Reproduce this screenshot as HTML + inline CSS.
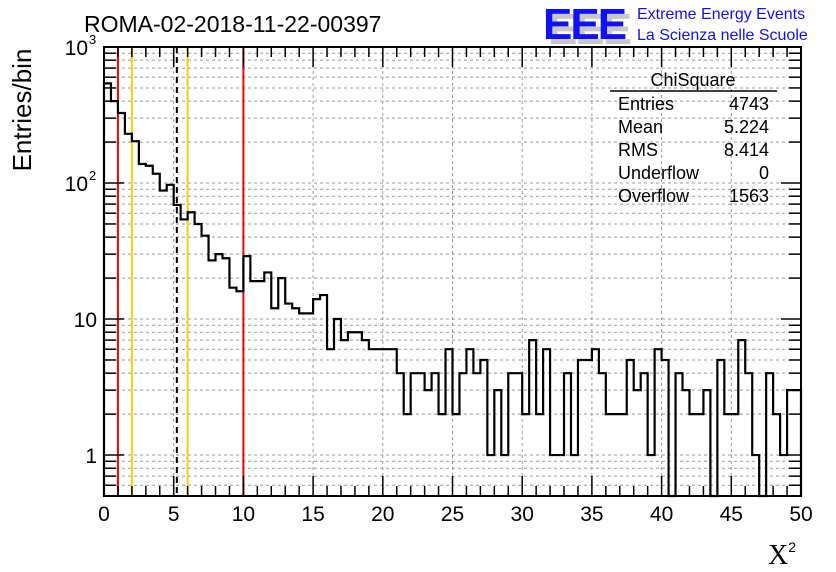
<!DOCTYPE html>
<html><head><meta charset="utf-8"><style>
body{margin:0;background:#fff;}
svg{display:block;font-family:"Liberation Sans",sans-serif;}
</style></head><body>
<svg id="c" width="836" height="572">
<rect width="836" height="572" fill="#fff"/>
<g id="grid"></g>
<g id="vlines"></g>
<path id="hist" fill="none" stroke="#000" stroke-width="2.2"/>
<g id="axes"></g>
<text x="84" y="32" font-size="23">ROMA-02-2018-11-22-00397</text>
<text transform="translate(31,110) rotate(-90)" text-anchor="middle" font-size="26">Entries/bin</text>
<text x="768" y="564" font-size="28" font-family="Liberation Serif,serif">X<tspan font-size="14" dy="-12" font-family="Liberation Sans,sans-serif">2</tspan></text>
<g>
<text x="548" y="44" font-size="44" font-weight="bold" fill="#c8c8c8" letter-spacing="-2">EEE</text>
<text x="543" y="39" font-size="44" font-weight="bold" fill="#1010ff" letter-spacing="-2">EEE</text>
<text x="637" y="19" font-size="16" fill="#1010ff">Extreme Energy Events</text>
<text x="637" y="40" font-size="16" fill="#1010ff">La Scienza nelle Scuole</text>
</g>
<g font-size="18">
<text x="693" y="86" text-anchor="middle">ChiSquare</text>
<line x1="610" y1="91" x2="777" y2="91" stroke="#000" stroke-width="1.5"/>
<text x="618" y="110">Entries</text><text x="769" y="110" text-anchor="end">4743</text>
<text x="618" y="133">Mean</text><text x="769" y="133" text-anchor="end">5.224</text>
<text x="618" y="156">RMS</text><text x="769" y="156" text-anchor="end">8.414</text>
<text x="618" y="179">Underflow</text><text x="769" y="179" text-anchor="end">0</text>
<text x="618" y="202">Overflow</text><text x="769" y="202" text-anchor="end">1563</text>
</g>
</svg>
<script>
const counts=[540,400,327,230,203,138,134,117,88,97,69,54,61,50,41,27,30,28,17,16,
29,19,19,22,12,20,13,12,11,11,14,15,6,10,7,8,8,7,6,6,
6,6,4,2,4,4,3,4,2,6,2,4,6,4,5,1,3,1,4,4,
2,7,2,6,1,1,4,1,5,5,6,4,2,2,2,5,3,4,1,6,
5,0,4,3,2,2,3,0,5,2,2,7,4,1,0,4,2,1,3,3];
const binWidth=0.5;
const xTicks=[0,5,10,15,20,25,30,35,40,45,50];
const refLines=[{v:1,c:"#ff0000",d:""},{v:2,c:"#ffcc00",d:""},{v:5.224,c:"#000",d:"6,4"},{v:6,c:"#ffcc00",d:""},{v:10,c:"#ff0000",d:""}];
const X0=104,X1=801,Y0=496,Y1=47,YMIN=0.5,YMAX=1000;
const sx=v=>X0+(v/50)*(X1-X0);
const sy=v=>{v=Math.max(v,YMIN);return Y0-(Math.log10(v)-Math.log10(YMIN))/(Math.log10(YMAX)-Math.log10(YMIN))*(Y0-Y1);};
const NS="http://www.w3.org/2000/svg";
function mk(tag,attrs,parent){const e=document.createElementNS(NS,tag);for(const k in attrs)e.setAttribute(k,attrs[k]);parent.appendChild(e);return e;}
const grid=document.getElementById('grid'),axes=document.getElementById('axes'),vl=document.getElementById('vlines');
xTicks.forEach(t=>{if(t>0&&t<50){const l=mk('line',{x1:sx(t),x2:sx(t),y1:Y1,y2:Y0,stroke:'#999','stroke-dasharray':'3,3'},grid);

}});
for(let d=0;d<4;d++)for(let m=1;m<10;m++){const v=m*Math.pow(10,d-1);if(v<YMIN||v>YMAX)continue;
const y=sy(v);const l=mk('line',{x1:X0,x2:X1,y1:y,y2:y,stroke:'#999','stroke-dasharray':'3,3'},grid);


const major=(m===1);const L=major?20:12;
mk('line',{x1:X0,x2:X0+L,y1:y,y2:y,stroke:'#000','stroke-width':1.5},axes);
mk('line',{x1:X1,x2:X1-L,y1:y,y2:y,stroke:'#000','stroke-width':1.5},axes);}
refLines.forEach(r=>{const l=mk('line',{x1:sx(r.v),x2:sx(r.v),y1:Y1,y2:Y0,stroke:r.c,'stroke-width':2,'stroke-dasharray':r.d},vl);

});
let d=`M${sx(0)},${Y0}`;
counts.forEach((c,i)=>{const y=c>0?sy(c):Y0;d+=` L${sx(i*binWidth)},${y} L${sx((i+1)*binWidth)},${y}`;});
d+=` L${sx(50)},${Y0}`;
document.getElementById('hist').setAttribute('d',d);
mk('rect',{x:X0,y:Y1,width:X1-X0,height:Y0-Y1,fill:'none',stroke:'#000','stroke-width':2},axes);
for(let t=0;t<=50;t++){const major=t%5===0;const L=major?20:10;
mk('line',{x1:sx(t),x2:sx(t),y1:Y0,y2:Y0-L,stroke:'#000','stroke-width':1.5},axes);
mk('line',{x1:sx(t),x2:sx(t),y1:Y1,y2:Y1+L,stroke:'#000','stroke-width':1.5},axes);}
xTicks.forEach(t=>{const e=mk('text',{x:sx(t),y:521,'text-anchor':'middle','font-size':21},axes);e.textContent=t;

});
const yLab=[{v:1000,t:"10",s:"3"},{v:100,t:"10",s:"2"},{v:10,t:"10",s:""},{v:1,t:"1",s:""}];
yLab.forEach(o=>{const e=mk('text',{x:o.s?88:97,y:sy(o.v)+8,'text-anchor':'end','font-size':21},axes);e.textContent=o.t;


if(o.s){const s=mk('text',{x:89,y:sy(o.v)-3,'font-size':13},axes);s.textContent=o.s;}});
</script>
</body></html>
